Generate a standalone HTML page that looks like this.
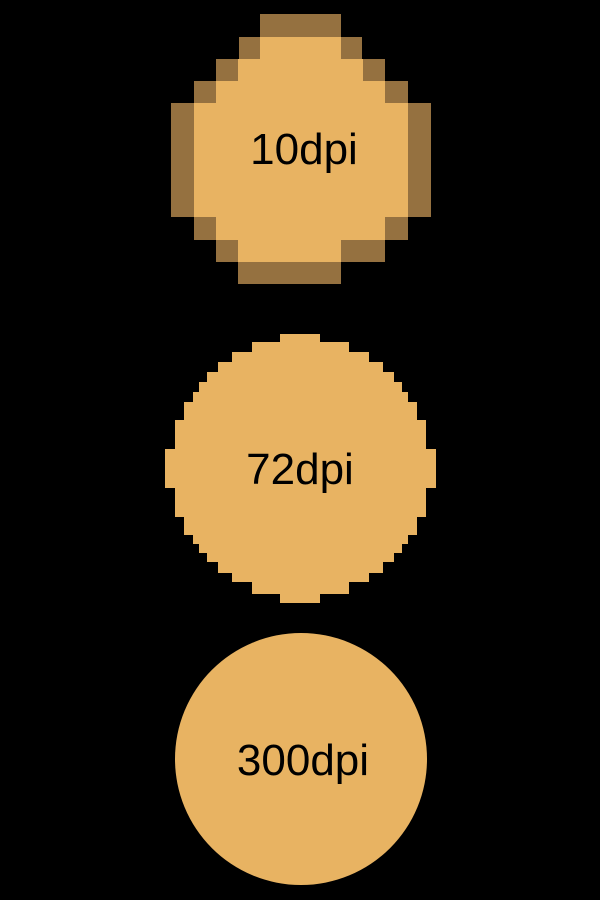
<!DOCTYPE html>
<html><head><style>
html,body{margin:0;padding:0;background:#000;}
body{width:600px;height:900px;position:relative;overflow:hidden;}
</style></head><body>
<svg width="600" height="900" viewBox="0 0 600 900" style="position:absolute;left:0;top:0">
<g shape-rendering="crispEdges">
<g fill="#957140">
<rect x="260" y="14" width="81" height="23"/>
<rect x="239" y="37" width="123" height="22"/>
<rect x="216" y="59" width="169" height="22"/>
<rect x="194" y="81" width="214" height="22"/>
<rect x="171" y="103" width="260" height="114"/>
<rect x="194" y="217" width="214" height="23"/>
<rect x="216" y="240" width="169" height="22"/>
<rect x="238" y="262" width="103" height="22"/>
</g>
<g fill="#e8b362">
<rect x="260" y="37" width="81" height="22"/>
<rect x="238" y="59" width="125" height="22"/>
<rect x="216" y="81" width="169" height="22"/>
<rect x="194" y="103" width="214" height="114"/>
<rect x="216" y="217" width="169" height="23"/>
<rect x="238" y="240" width="103" height="22"/>
</g>
<g fill="#e8b362">
<rect x="280" y="334" width="40" height="9"/>
<rect x="252" y="342" width="97" height="10"/>
<rect x="232" y="352" width="137" height="10"/>
<rect x="218" y="362" width="165" height="10"/>
<rect x="207" y="372" width="187" height="10"/>
<rect x="199" y="382" width="203" height="10"/>
<rect x="193" y="392" width="215" height="10"/>
<rect x="184" y="402" width="233" height="20"/>
<rect x="175" y="420" width="251" height="30"/>
<rect x="165" y="449" width="271" height="39"/>
<rect x="175" y="487" width="251" height="30"/>
<rect x="184" y="515" width="233" height="20"/>
<rect x="193" y="534" width="215" height="10"/>
<rect x="199" y="543" width="203" height="10"/>
<rect x="207" y="552" width="187" height="10"/>
<rect x="218" y="561" width="165" height="12"/>
<rect x="232" y="572" width="137" height="10"/>
<rect x="252" y="581" width="97" height="13"/>
<rect x="280" y="593" width="40" height="10"/>
</g>
</g>
<circle cx="301" cy="759" r="126" fill="#e8b362"/>
<g font-family="Liberation Sans, sans-serif" font-size="44" fill="#000" text-anchor="middle">
<text x="304" y="164">10dpi</text>
<text x="300" y="484">72dpi</text>
<text x="303" y="775">300dpi</text>
</g>
</svg>
</body></html>
